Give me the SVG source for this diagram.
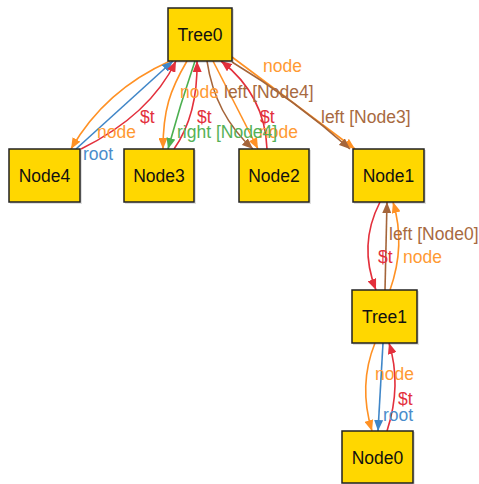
<svg xmlns="http://www.w3.org/2000/svg" width="479" height="484" viewBox="0 0 479 484">
<style>
.n rect.b{fill:#FFD700;stroke:#222;stroke-width:1.5}
.n rect.s{fill:#000;opacity:0.12}
.n text{font-family:"Liberation Sans",Arial,sans-serif;font-size:17.5px;fill:#111;text-anchor:middle}
.e path{fill:none;stroke-width:1.6}
.l{font-family:"Liberation Sans",Arial,sans-serif;font-size:17.5px}
.or{stroke:#FF9124}.rd{stroke:#E3303C}.bl{stroke:#3F86C8}.gr{stroke:#4CAF50}.br{stroke:#A5653A}
.tor{fill:#FF9A33}.trd{fill:#E3303C}.tbl{fill:#4A8DCB}.tgr{fill:#55B157}.tbr{fill:#A86A40}
</style>
<defs>
<marker id="aor" markerUnits="userSpaceOnUse" markerWidth="11" markerHeight="9" refX="11" refY="4.5" orient="auto"><path d="M0,0 L11,4.5 L0,9 z" fill="#FF9124"/></marker>
<marker id="ard" markerUnits="userSpaceOnUse" markerWidth="11" markerHeight="9" refX="11" refY="4.5" orient="auto"><path d="M0,0 L11,4.5 L0,9 z" fill="#E3303C"/></marker>
<marker id="abl" markerUnits="userSpaceOnUse" markerWidth="11" markerHeight="9" refX="11" refY="4.5" orient="auto"><path d="M0,0 L11,4.5 L0,9 z" fill="#3F86C8"/></marker>
<marker id="agr" markerUnits="userSpaceOnUse" markerWidth="11" markerHeight="9" refX="11" refY="4.5" orient="auto"><path d="M0,0 L11,4.5 L0,9 z" fill="#4CAF50"/></marker>
<marker id="abr" markerUnits="userSpaceOnUse" markerWidth="11" markerHeight="9" refX="11" refY="4.5" orient="auto"><path d="M0,0 L11,4.5 L0,9 z" fill="#A5653A"/></marker>
</defs>
<g id="connectors" class="e">
<path class="or" d="M170,61 Q105,90 71,149" marker-end="url(#aor)"/>
<path class="bl" d="M76,149 L173,61" marker-end="url(#abl)"/>
<path class="rd" d="M81,149 Q150,115 176,61" marker-end="url(#ard)"/>
<path class="or" d="M187,61 C170,90 163,110 163,149" marker-end="url(#aor)"/>
<path class="gr" d="M195,61 Q180,105 168,149" marker-end="url(#agr)"/>
<path class="rd" d="M174,149 Q198,115 197,61" marker-end="url(#ard)"/>
<path class="br" d="M207,61 Q215,115 253,149" marker-end="url(#abr)"/>
<path class="or" d="M213,61 L258,149" marker-end="url(#aor)"/>
<path class="rd" d="M267,149 Q265,95 221,61" marker-end="url(#ard)"/>
<path class="or" d="M232,57 L355,149" marker-end="url(#aor)"/>
<path class="br" d="M232,62 Q295,100 350,149" marker-end="url(#abr)"/>
<path class="rd" d="M380,202 Q358,245 376,290" marker-end="url(#ard)"/>
<path class="br" d="M385,290 L387,202" marker-end="url(#abr)"/>
<path class="or" d="M390,290 Q406,245 393,202" marker-end="url(#aor)"/>
<path class="or" d="M375,343 Q358,385 372,431" marker-end="url(#aor)"/>
<path class="bl" d="M383,343 L378,431" marker-end="url(#abl)"/>
<path class="rd" d="M387,431 Q402,385 389,343" marker-end="url(#ard)"/>
<text class="l tor" x="263" y="72">node</text>
<text class="l tor" x="180" y="98">node</text>
<text class="l tbr" x="224" y="98">left [Node4]</text>
<text class="l tbr" x="321" y="123">left [Node3]</text>
<text class="l trd" x="140" y="123">$t</text>
<text class="l trd" x="197" y="123">$t</text>
<text class="l trd" x="260" y="123">$t</text>
<text class="l tor" x="97" y="138">node</text>
<text class="l tor" x="259" y="138">node</text>
<text class="l tgr" x="177" y="138">right [Node4]</text>
<text class="l tbl" x="83" y="160">root</text>
<text class="l tbr" x="389" y="240">left [Node0]</text>
<text class="l trd" x="378" y="263">$t</text>
<text class="l tor" x="403" y="263">node</text>
<text class="l tor" x="375" y="380">node</text>
<text class="l trd" x="398" y="405">$t</text>
<text class="l tbl" x="383" y="421">root</text>
</g>
<g id="Tree0" class="n"><rect class="s" x="169" y="9" width="65" height="54"/><rect class="b" x="168" y="8" width="64" height="53"/><text x="200" y="41">Tree0</text></g>
<g id="Node4" class="n"><rect class="s" x="10" y="150" width="72" height="54"/><rect class="b" x="9" y="149" width="71" height="53"/><text x="44.5" y="182">Node4</text></g>
<g id="Node3" class="n"><rect class="s" x="125" y="150" width="71" height="54"/><rect class="b" x="124" y="149" width="70" height="53"/><text x="159" y="182">Node3</text></g>
<g id="Node2" class="n"><rect class="s" x="240" y="150" width="71" height="54"/><rect class="b" x="239" y="149" width="70" height="53"/><text x="274" y="182">Node2</text></g>
<g id="Node1" class="n"><rect class="s" x="354" y="150" width="72" height="54"/><rect class="b" x="353" y="149" width="71" height="53"/><text x="388.5" y="182">Node1</text></g>
<g id="Tree1" class="n"><rect class="s" x="353" y="291" width="66" height="54"/><rect class="b" x="352" y="290" width="65" height="53"/><text x="384.5" y="323">Tree1</text></g>
<g id="Node0" class="n"><rect class="s" x="343" y="432" width="72" height="54"/><rect class="b" x="342" y="431" width="71" height="52"/><text x="377.5" y="464">Node0</text></g>
</svg>
